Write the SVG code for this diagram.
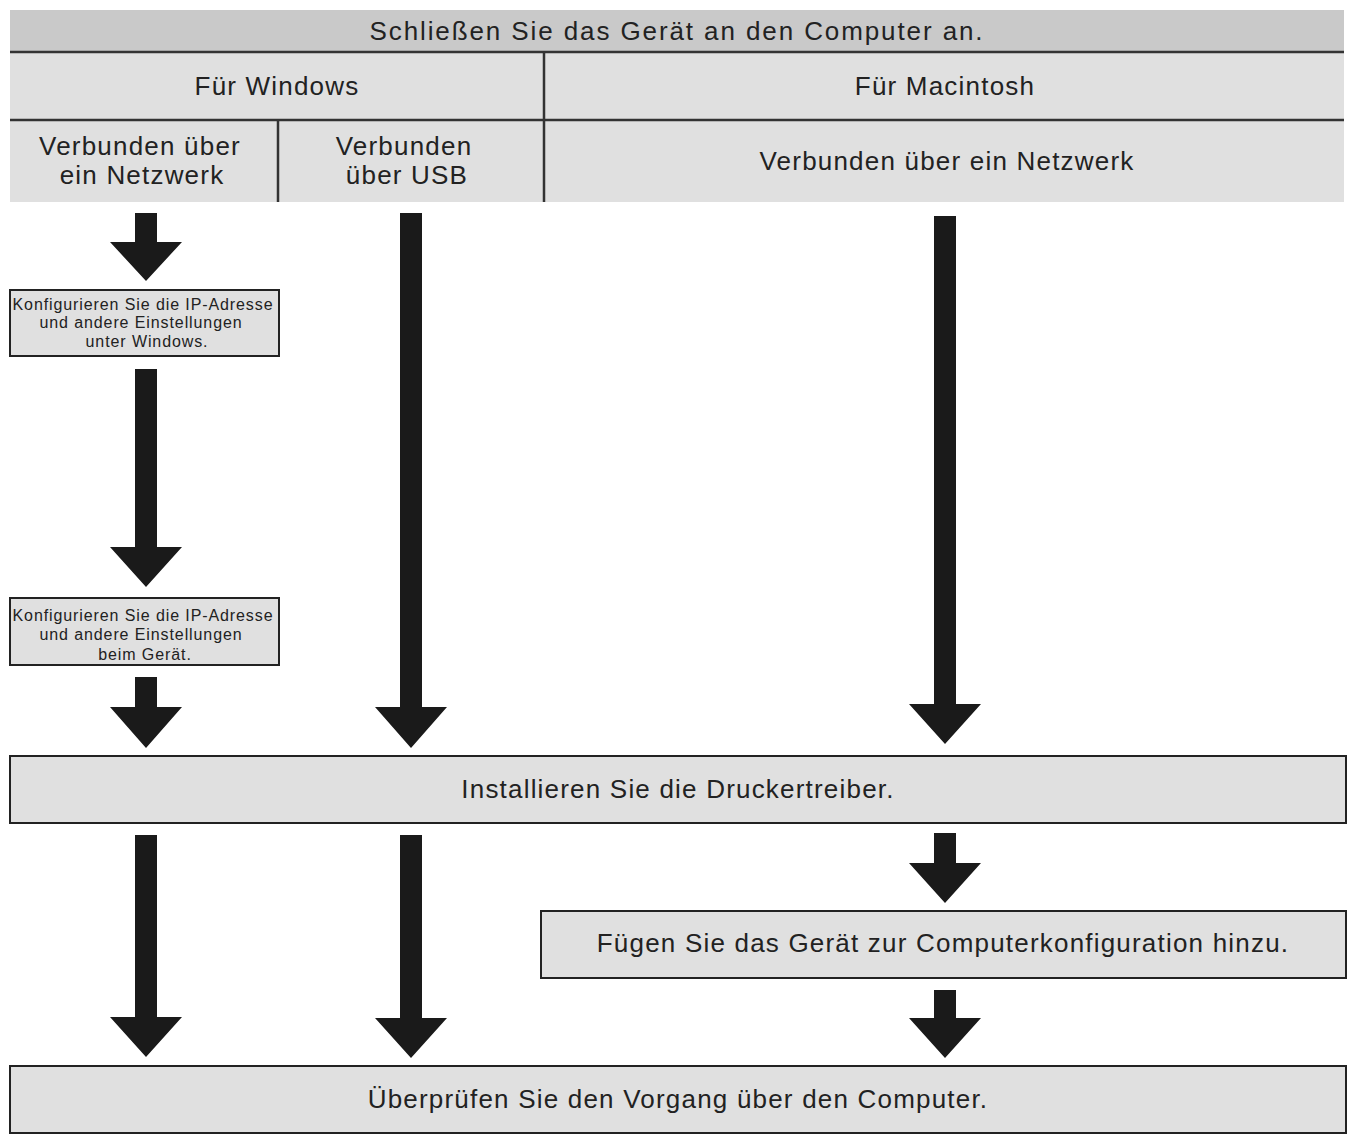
<svg xmlns="http://www.w3.org/2000/svg" width="1356" height="1140" viewBox="0 0 1356 1140">
<style>
text{font-family:"Liberation Sans",Arial,sans-serif;fill:#222;text-anchor:middle}
.big{font-size:26px;letter-spacing:1.2px}.hd{letter-spacing:1.9px}.sm{font-size:16px;letter-spacing:0.9px}
.box{fill:#e0e0e0;stroke:#222;stroke-width:2}
.ln{stroke:#333;stroke-width:2.5}
.ar{fill:#1a1a1a}
</style>
<rect width="1356" height="1140" fill="#fff"/>
<g id="header">
<rect x="10" y="10" width="1334" height="42" fill="#c9c9c9"/>
<rect x="10" y="52" width="1334" height="150" fill="#e0e0e0"/>
<line class="ln" x1="10" y1="52" x2="1344" y2="52"/>
<line class="ln" x1="10" y1="120" x2="1344" y2="120"/>
<line class="ln" x1="544" y1="52" x2="544" y2="202"/>
<line class="ln" x1="278" y1="120" x2="278" y2="202"/>
<text class="big hd" x="677" y="40">Schließen Sie das Gerät an den Computer an.</text>
<text class="big" x="277" y="95">Für Windows</text>
<text class="big" x="945" y="95">Für Macintosh</text>
<text class="big" x="140" y="155">Verbunden über</text>
<text class="big" x="142" y="184">ein Netzwerk</text>
<text class="big" x="404" y="155">Verbunden</text>
<text class="big" x="407" y="184">über USB</text>
<text class="big" x="947" y="170">Verbunden über ein Netzwerk</text>
</g>
<g id="box1"><rect class="box" x="10" y="290" width="269" height="66"/>
<text class="sm" x="143" y="310">Konfigurieren Sie die IP-Adresse</text>
<text class="sm" x="141" y="328">und andere Einstellungen</text>
<text class="sm" x="147" y="347">unter Windows.</text></g>
<g id="box2"><rect class="box" x="10" y="598" width="269" height="67"/>
<text class="sm" x="143" y="621">Konfigurieren Sie die IP-Adresse</text>
<text class="sm" x="141" y="640">und andere Einstellungen</text>
<text class="sm" x="145" y="660">beim Gerät.</text></g>
<g id="install"><rect class="box" x="10" y="756" width="1336" height="67"/>
<text class="big" x="678" y="798">Installieren Sie die Druckertreiber.</text></g>
<g id="add"><rect class="box" x="541" y="911" width="805" height="67"/>
<text class="big" x="943" y="952">Fügen Sie das Gerät zur Computerkonfiguration hinzu.</text></g>
<g id="check"><rect class="box" x="10" y="1066" width="1336" height="67"/>
<text class="big" x="678" y="1108">Überprüfen Sie den Vorgang über den Computer.</text></g>
<g id="connectors">
<path class="ar" d="M135,213h22v29h25l-36,39l-36,-39h25z"/>
<path class="ar" d="M135,369h22v178h25l-36,40l-36,-40h25z"/>
<path class="ar" d="M135,677h22v30h25l-36,41l-36,-41h25z"/>
<path class="ar" d="M400,213h22v494h25l-36,41l-36,-41h25z"/>
<path class="ar" d="M934,216h22v488h25l-36,40l-36,-40h25z"/>
<path class="ar" d="M135,835h22v182h25l-36,40l-36,-40h25z"/>
<path class="ar" d="M400,835h22v183h25l-36,40l-36,-40h25z"/>
<path class="ar" d="M934,833h22v30h25l-36,40l-36,-40h25z"/>
<path class="ar" d="M934,990h22v28h25l-36,40l-36,-40h25z"/>
</g>
</svg>
